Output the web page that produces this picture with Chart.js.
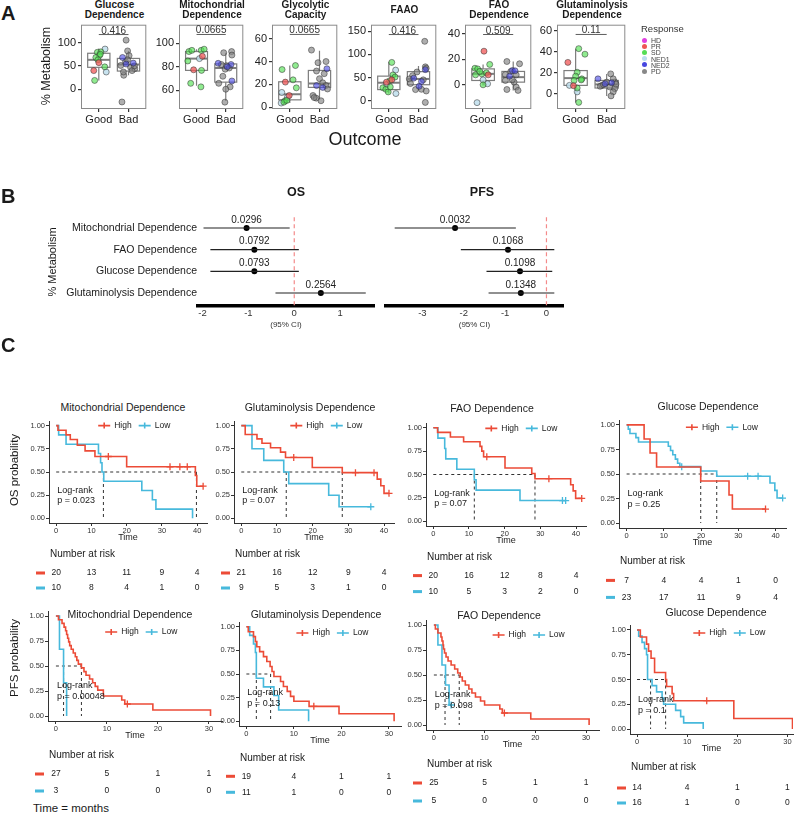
<!DOCTYPE html>
<html>
<head>
<meta charset="utf-8">
<script src="https://cdn.jsdelivr.net/npm/chart.js@4.4.1/dist/chart.umd.min.js"></script>
<style>
  body { margin: 0; background: #fff; }
  #fig { position: relative; width: 796px; height: 815px; overflow: hidden; font-family: "Liberation Sans", Arial, sans-serif; color: #1a1a1a; }
  #fig canvas { position: absolute; }
  .txt { position: absolute; white-space: nowrap; line-height: 1; }
  .dot { position: absolute; width: 5px; height: 5px; border-radius: 50%; }
</style>
</head>
<body>
<div id="fig"></div>
<script>
// ---------- Panel A: % metabolism by outcome ----------
const outcomes = ["Good", "Bad"];
const responseNames = ["HD", "PR", "SD", "NED1", "NED2", "PD"];
const boxTitles = [["Glucose", "Dependence"], ["Mitochondrial", "Dependence"], ["Glycolytic", "Capacity"], ["FAAO"], ["FAO", "Dependence"], ["Glutaminolysis", "Dependence"]];
const pValuesA = ["0.416", "0.0665", "0.0665", "0.416", "0.509", "0.11"];

// [lower whisker, Q1, median, Q3, upper whisker] for Good, Bad
const glucoseBox = [[19, 47, 63, 77, 87], [30, 39, 53, 66, 82]];
const mitoBox = [[64, 77, 87, 93, 95], [51, 67, 79, 82.5, 92]];
const glyBox = [[3.7, 6.5, 11.4, 22.3, 36.5], [6.5, 17.4, 20.8, 32.2, 49.4]];
const faaoBox = [[15.5, 24, 38.8, 53, 84], [22.5, 34.5, 47, 62.7, 75]];
const faoBox = [[-0.5, 3.4, 8.6, 12.5, 16], [-4.4, 2.1, 6, 10.5, 18.3]];
const glutBox = [[-8.4, 7.8, 14.7, 21.9, 42.8], [-2.2, 5.3, 8.75, 12.5, 18.75]];

// [jitter offset, value, response]
const glucoseGood = [[-0.14,19,"SD"],[-0.17,40,"PR"],[-0.05,79,"SD"],[0.07,80,"SD"],[0.21,86,"NED1"],[0.2,48,"SD"],[0.25,37,"NED1"],[0.02,72,"SD"],[0.0,57,"PR"],[-0.1,68,"SD"],[0.05,75,"SD"],[-0.03,63,"SD"]];
const glucoseBad = [[-0.08,105,"PD"],[-0.03,82,"PD"],[-0.2,68,"NED2"],[0.16,56,"NED2"],[-0.1,59,"PD"],[-0.16,30,"PD"],[-0.17,37,"PD"],[0.21,44,"PD"],[0.07,47,"PD"],[0.02,72,"PD"],[-0.22,-27,"PD"],[-0.08,54,"NED2"],[-0.26,51,"PD"],[-0.03,63,"PD"],[0.12,40,"PD"],[0.2,50,"PD"]];
const mitoGood = [[-0.26,93,"SD"],[-0.16,94,"SD"],[0.16,94,"SD"],[0.2,89,"PR"],[0.1,87,"NED1"],[-0.3,85,"SD"],[-0.1,77.5,"PR"],[-0.2,66,"SD"],[0.15,63,"SD"],[0.17,77,"SD"],[0.26,95,"SD"]];
const mitoBad = [[-0.07,92,"PD"],[0.2,93,"PD"],[0.21,90,"PD"],[-0.26,83,"NED2"],[0.18,82,"NED2"],[-0.15,82,"PD"],[-0.02,78,"PD"],[0.03,81,"PD"],[0.21,68,"NED2"],[-0.24,66,"PD"],[0.15,63,"PD"],[-0.03,50,"PD"],[0.0,61,"PD"],[-0.1,72,"PD"],[0.05,80,"NED2"],[0.12,79,"PD"]];
const glyGood = [[-0.26,33,"SD"],[0.19,36.5,"SD"],[-0.15,22,"PR"],[0.11,24,"SD"],[0.22,17,"SD"],[-0.27,13,"NED1"],[-0.08,8.8,"NED1"],[-0.02,10.3,"PR"],[-0.16,5.7,"SD"],[-0.2,4.5,"SD"],[-0.29,3.7,"NED1"],[-0.1,6,"SD"]];
const glyBad = [[-0.27,50,"PD"],[-0.05,39,"PD"],[0.22,40,"PD"],[-0.1,31.7,"PD"],[0.25,33.7,"NED2"],[0.16,29.4,"PD"],[0.0,25,"PD"],[0.11,21.4,"PD"],[-0.1,19,"NED2"],[0.11,17.4,"NED2"],[0.22,19,"PD"],[-0.22,10.3,"PD"],[-0.11,8,"PD"],[0.05,5.7,"PD"],[-0.18,8.5,"PD"],[0.27,16,"PD"]];
const faaoGood = [[0.1,82.6,"SD"],[0.23,66,"NED1"],[0.14,55.7,"SD"],[0.21,51,"SD"],[0.1,45,"PR"],[0.03,43,"SD"],[-0.08,40,"PR"],[-0.2,28,"SD"],[-0.1,24.6,"SD"],[-0.02,19,"SD"],[0.24,15.5,"NED1"],[0.05,29.7,"SD"],[-0.08,35,"NED1"]];
const faaoBad = [[0.21,128,"PD"],[0.23,73,"PD"],[0.26,70,"PD"],[0.23,67,"NED2"],[-0.05,62,"PD"],[-0.2,54,"PD"],[-0.16,48.7,"NED2"],[-0.31,47,"PD"],[0.16,45,"PD"],[0.1,41.5,"NED2"],[0.02,31,"NED2"],[-0.1,24,"PD"],[0.1,24.6,"PD"],[0.26,21,"PD"],[0.23,-3.6,"PD"],[-0.27,37,"PD"]];
const faoGood = [[0.03,26.4,"PR"],[0.22,16,"SD"],[-0.27,13,"SD"],[-0.18,12.5,"SD"],[-0.04,8.6,"SD"],[0.11,9.4,"SD"],[0.17,7.8,"PR"],[-0.25,7.8,"SD"],[0.0,3.9,"NED1"],[0.0,0,"SD"],[0.15,0.8,"NED1"],[-0.2,-14,"NED1"],[-0.11,10.5,"SD"]];
const faoBad = [[-0.21,18.3,"PD"],[0.21,16.5,"PD"],[-0.03,11.2,"NED2"],[-0.08,10.5,"PD"],[-0.12,6.8,"NED2"],[-0.26,8,"PD"],[0.1,7.8,"PD"],[-0.26,3.4,"PD"],[0.03,2.1,"PD"],[0.1,-1.8,"PD"],[-0.21,-3.7,"PD"],[0.16,-4.4,"PD"],[-0.03,4,"PD"],[0.06,11,"NED2"]];
const glutGood = [[0.1,42.8,"SD"],[0.3,37.5,"SD"],[-0.25,29.7,"PR"],[0.05,20.3,"SD"],[0.0,16.6,"SD"],[0.2,14,"SD"],[-0.05,12.5,"SD"],[-0.2,7.8,"NED1"],[-0.07,7.5,"PR"],[0.05,5.3,"SD"],[0.05,1.6,"NED1"],[0.1,-8.4,"SD"],[0.18,13,"SD"]];
const glutBad = [[-0.28,14,"NED2"],[0.13,18.75,"PD"],[0.0,10.9,"PD"],[-0.16,7.8,"PD"],[-0.05,9.4,"NED2"],[0.16,10.3,"NED2"],[0.26,11,"PD"],[0.21,14,"PD"],[0.1,6.25,"PD"],[0.26,4.7,"PD"],[0.21,1.6,"PD"],[0.14,-2.2,"PD"],[-0.21,6.9,"PD"],[0.3,9,"PD"],[-0.1,8.5,"PD"]];

const glucoseTicks = [0, 50, 100];
const mitoTicks = [60, 80, 100];
const glyTicks = [0, 20, 40, 60];
const faaoTicks = [0, 50, 100, 150];
const faoTicks = [0, 20, 40];
const glutTicks = [0, 20, 40, 60];

// ---------- Panel B: forest plots ----------
const forestLabels = ["Mitochondrial Dependence", "FAO Dependence", "Glucose Dependence", "Glutaminolysis Dependence"];
const osEst = [-1.04, -0.87, -0.87, 0.58];
const osLow = [-1.98, -1.83, -1.83, -0.41];
const osHigh = [-0.1, 0.1, 0.1, 1.56];
const osP = ["0.0296", "0.0792", "0.0793", "0.2564"];
const pfsEst = [-2.21, -0.93, -0.64, -0.62];
const pfsLow = [-3.67, -2.07, -1.45, -1.4];
const pfsHigh = [-0.74, 0.19, 0.14, 0.19];
const pfsP = ["0.0032", "0.1068", "0.1098", "0.1348"];
const osTicks = [-2, -1, 0, 1];
const pfsTicks = [-3, -2, -1, 0];

// ---------- Panel C: Kaplan-Meier curves [time, survival] ----------
const kmTitles = ["Mitochondrial Dependence", "Glutaminolysis Dependence", "FAO Dependence", "Glucose Dependence"];
const osRiskTimes = [0, 10, 20, 30, 40];
const pfsRiskTimes = [0, 10, 20, 30];
const osLogRankP = ["0.023", "0.07", "0.07", "0.25"];
const pfsLogRankP = ["0.00048", "0.13", "0.098", "0.1"];

const osMitoHigh = [[0,1],[0.5,0.95],[2.8,0.9],[4,0.85],[6,0.789],[8.2,0.728],[11,0.667],[20,0.556],[39.5,0.463],[39.9,0.347],[41.7,0.347]];
const osMitoLow = [[0,1],[0.7,0.9],[2.8,0.8],[12,0.7],[12.6,0.6],[13,0.5],[13.5,0.4],[24.3,0.3],[27.3,0.2],[28.3,0.1],[38.7,0]];
const osMitoHighCens = [[14.8,0.667],[32.3,0.556],[35.1,0.556],[37.2,0.556],[41.7,0.347]];
const osMitoLowCens = [];
const osMitoMedians = [13.4, 39.8];
const osMitoRiskHigh = [20, 13, 11, 9, 4];
const osMitoRiskLow = [10, 8, 4, 1, 0];

const osGlutHigh = [[0,1],[1.1,0.905],[4.4,0.857],[5.8,0.81],[8.2,0.762],[11,0.714],[12.4,0.657],[19.9,0.548],[28.3,0.493],[38.1,0.423],[39.1,0.352],[40,0.27],[41.4,0.27]];
const osGlutLow = [[0,1],[3,0.75],[6.3,0.625],[11.9,0.5],[13.3,0.375],[24.5,0.25],[27.4,0.125],[36.3,0.125]];
const osGlutHighCens = [[14.7,0.657],[32,0.493],[37.2,0.493],[41.4,0.27]];
const osGlutLowCens = [[36.3,0.125]];
const osGlutMedians = [12.6, 28.3];
const osGlutRiskHigh = [21, 16, 12, 9, 4];
const osGlutRiskLow = [9, 5, 3, 1, 0];

const osFaoHigh = [[0,1],[1.2,0.95],[4.8,0.9],[8.5,0.85],[13.1,0.8],[13.6,0.75],[14.1,0.69],[20.1,0.57],[27.6,0.51],[28.5,0.455],[38.5,0.39],[39.2,0.325],[39.9,0.245],[41.6,0.245]];
const osFaoLow = [[0,1],[1.3,0.889],[3.2,0.778],[3.5,0.667],[6.6,0.556],[11.5,0.444],[12,0.333],[24.3,0.222],[37.1,0.222]];
const osFaoHighCens = [[15,0.69],[32.4,0.455],[41.6,0.245]];
const osFaoLowCens = [[36.2,0.222],[37.1,0.222]];
const osFaoMedians = [11.5, 28.5];
const osFaoRiskHigh = [20, 16, 12, 8, 4];
const osFaoRiskLow = [10, 5, 3, 2, 0];

const osGlucHigh = [[0,1],[4.7,0.857],[6.3,0.714],[8.05,0.571],[19.9,0.429],[27.5,0.286],[28.4,0.143],[37.3,0.143]];
const osGlucLow = [[0,1],[0.45,0.957],[0.9,0.913],[2.5,0.87],[3.2,0.826],[11.2,0.783],[11.8,0.739],[12.4,0.696],[13.1,0.652],[13.7,0.609],[14.3,0.575],[19.9,0.53],[24.2,0.477],[38.5,0.408],[39.8,0.333],[40.4,0.255],[41.9,0.255]];
const osGlucHighCens = [[37.3,0.143]];
const osGlucLowCens = [[14.8,0.575],[32.5,0.477],[35.3,0.477],[41.9,0.255]];
const osGlucMedians = [19.9, 24.2];
const osGlucRiskHigh = [7, 4, 4, 1, 0];
const osGlucRiskLow = [23, 17, 11, 9, 4];

const pfsMitoHigh = [[0,1],[0.5,0.963],[1.2,0.926],[1.6,0.889],[1.9,0.852],[2.1,0.815],[2.3,0.778],[2.5,0.741],[2.7,0.704],[3.0,0.667],[3.4,0.63],[3.8,0.593],[4.1,0.556],[4.4,0.519],[5.0,0.481],[5.5,0.444],[5.9,0.407],[6.6,0.37],[7.2,0.333],[7.7,0.296],[8.2,0.259],[9.3,0.2],[12.9,0.16],[13.5,0.12],[19,0.06],[30.3,0]];
const pfsMitoLow = [[0,1],[0.7,0.667],[1.5,0.333],[2.1,0]];
const pfsMitoHighCens = [[14,0.12]];
const pfsMitoLowCens = [];
const pfsMitoMedians = [1.5, 5.0];
const pfsMitoRiskHigh = [27, 5, 1, 1];
const pfsMitoRiskLow = [3, 0, 0, 0];

const pfsGlutHigh = [[0,1],[0.4,0.947],[1.5,0.895],[1.9,0.842],[2.2,0.789],[2.8,0.737],[3.6,0.684],[4.3,0.632],[5.0,0.579],[5.4,0.526],[5.8,0.474],[7.2,0.421],[7.8,0.368],[8.6,0.316],[9.3,0.263],[10,0.211],[13.2,0.158],[19.5,0.079],[31.1,0]];
const pfsGlutLow = [[0,1],[0.7,0.909],[1.5,0.818],[1.9,0.727],[2.1,0.455],[3.6,0.364],[5.8,0.273],[6.8,0.12],[13.1,0]];
const pfsGlutHighCens = [[14.2,0.158]];
const pfsGlutLowCens = [];
const pfsGlutMedians = [2.1, 5.1];
const pfsGlutRiskHigh = [19, 4, 1, 1];
const pfsGlutRiskLow = [11, 1, 0, 0];

const pfsFaoHigh = [[0,1],[0.3,0.96],[0.8,0.92],[1.4,0.88],[1.6,0.84],[1.8,0.8],[1.9,0.76],[2.1,0.72],[2.4,0.68],[2.8,0.64],[3.4,0.6],[4.1,0.56],[4.7,0.52],[5.2,0.48],[5.6,0.44],[6.2,0.4],[6.9,0.36],[7.5,0.32],[8.2,0.28],[9.2,0.24],[10,0.2],[13,0.16],[13.5,0.12],[19.1,0.06],[30.6,0]];
const pfsFaoLow = [[0,1],[0.8,0.8],[1.6,0.6],[2.3,0.4],[3.0,0.2],[3.4,0.2]];
const pfsFaoHighCens = [[13.9,0.12]];
const pfsFaoLowCens = [[3.4,0.2]];
const pfsFaoMedians = [2.2, 5.0];
const pfsFaoRiskHigh = [25, 5, 1, 1];
const pfsFaoRiskLow = [5, 0, 0, 0];

const pfsGlucHigh = [[0,1],[0.66,0.929],[1.9,0.857],[2.3,0.786],[2.8,0.714],[3.5,0.571],[5.7,0.5],[5.9,0.429],[7,0.357],[7.3,0.286],[19.3,0.107],[31,0]];
const pfsGlucLow = [[0,1],[0.33,0.938],[1,0.875],[1.5,0.812],[1.9,0.75],[2.1,0.5],[3,0.438],[3.9,0.375],[5,0.313],[5.3,0.25],[7.7,0.188],[8.7,0.125],[9.3,0.0625],[13.2,0]];
const pfsGlucHighCens = [[13.9,0.286]];
const pfsGlucLowCens = [];
const pfsGlucMedians = [2.7, 5.7];
const pfsGlucRiskHigh = [14, 4, 1, 1];
const pfsGlucRiskLow = [16, 1, 0, 0];

// ---------- styling / layout ----------
const FONT = '"Liberation Sans", Arial, sans-serif';
const RED = "#EC4B37";
const BLUE = "#47B9DC";
const responseFill = ["rgba(230,60,230,0.75)", "rgba(240,85,85,0.75)", "rgba(85,225,85,0.65)", "rgba(190,222,236,0.85)", "rgba(70,70,230,0.6)", "rgba(130,130,130,0.65)"];
const responseDot = ["#E040E0", "#EE5555", "#55DD55", "#BBDDEE", "#4848E0", "#888888"];

Chart.defaults.font.family = FONT;
Chart.defaults.color = "#222";

const fig = document.getElementById("fig");

function put(text, x, y, css, anchor) {
  const d = document.createElement("div");
  d.className = "txt";
  d.textContent = text;
  d.style.cssText += css;
  d.style.left = x + "px";
  d.style.top = y + "px";
  const tr = { c: "translate(-50%,-50%)", l: "translate(0,-50%)", v: "translate(-50%,-50%) rotate(-90deg)" };
  d.style.transform = tr[anchor || "c"];
  fig.appendChild(d);
}

function makeCanvas(x, y, w, h) {
  const c = document.createElement("canvas");
  c.width = Math.round(w);
  c.height = Math.round(h);
  c.style.left = Math.round(x) + "px";
  c.style.top = Math.round(y) + "px";
  fig.appendChild(c);
  return c;
}

const fixW = w => s => { s.width = w; s.paddingTop = 0; s.paddingBottom = 0; };
const fixH = h => s => { s.height = h; s.paddingLeft = 0; s.paddingRight = 0; };

// ---------- plugins ----------
const boxPlugin = {
  id: "boxes",
  beforeDatasetsDraw(chart, args, o) {
    const { ctx, scales: { x, y } } = chart;
    const hw = x.getPixelForValue(1.375) - x.getPixelForValue(1);
    ctx.save();
    o.stats.forEach((s, g) => {
      const cx = x.getPixelForValue(g + 1);
      const [lo, q1, md, q3, hi] = s.map(v => y.getPixelForValue(v));
      ctx.strokeStyle = "#7d7d7d";
      ctx.lineWidth = 1.2;
      ctx.beginPath();
      ctx.moveTo(cx, hi); ctx.lineTo(cx, q3);
      ctx.moveTo(cx, q1); ctx.lineTo(cx, lo);
      ctx.stroke();
      ctx.fillStyle = "#fff";
      ctx.fillRect(cx - hw, q3, 2 * hw, q1 - q3);
      ctx.strokeRect(cx - hw, q3, 2 * hw, q1 - q3);
      ctx.lineWidth = 2;
      ctx.beginPath();
      ctx.moveTo(cx - hw, md); ctx.lineTo(cx + hw, md);
      ctx.stroke();
    });
    ctx.restore();
  },
  afterDraw(chart, args, o) {
    const { ctx, chartArea: a, scales: { x, y } } = chart;
    ctx.save();
    ctx.strokeStyle = "#8a8a8a";
    ctx.lineWidth = 1;
    ctx.strokeRect(a.left + 0.5, a.top + 0.5, a.right - a.left - 1, a.bottom - a.top - 1);
    const by = y.getPixelForValue(o.bracket);
    const x1 = x.getPixelForValue(1), x2 = x.getPixelForValue(2);
    ctx.strokeStyle = "#333";
    ctx.lineWidth = 0.8;
    ctx.beginPath(); ctx.moveTo(x1, by); ctx.lineTo(x2, by); ctx.stroke();
    ctx.fillStyle = "#333";
    ctx.font = `10px ${FONT}`;
    ctx.textAlign = "center";
    ctx.textBaseline = "alphabetic";
    ctx.fillText(o.p, (x1 + x2) / 2, by - 1);
    ctx.restore();
  }
};

const forestPlugin = {
  id: "forestP",
  afterDatasetsDraw(chart, args, o) {
    const { ctx, scales: { x, y } } = chart;
    ctx.save();
    ctx.font = `10px ${FONT}`;
    ctx.fillStyle = "#222";
    ctx.textAlign = "center";
    ctx.textBaseline = "middle";
    o.est.forEach((e, i) => ctx.fillText(o.pv[i], x.getPixelForValue(e), y.getPixelForValue(i + 1) - 8));
    ctx.restore();
  }
};

const kmPlugin = {
  id: "kmExtras",
  afterDraw(chart, args, o) {
    const { ctx, chartArea: a, scales: { x, y } } = chart;
    ctx.save();
    ctx.fillStyle = "#1a1a1a";
    ctx.textBaseline = "middle";
    ctx.textAlign = "left";
    ctx.font = `9px ${FONT}`;
    const lx = x.getPixelForValue(0) + 1;
    ctx.fillText("Log-rank", lx, y.getPixelForValue(0.3));
    ctx.fillText("p = " + o.p, lx, y.getPixelForValue(0.19));

    let gx = o.legend[0] - o.ox, gy = o.legend[1] - o.oy;
    ctx.font = `8.5px ${FONT}`;
    [["High", RED], ["Low", BLUE]].forEach(([name, col]) => {
      ctx.strokeStyle = col;
      ctx.lineWidth = 1.6;
      ctx.beginPath();
      ctx.moveTo(gx, gy); ctx.lineTo(gx + 12, gy);
      ctx.moveTo(gx + 6, gy - 3); ctx.lineTo(gx + 6, gy + 3);
      ctx.stroke();
      ctx.fillStyle = "#1a1a1a";
      ctx.fillText(name, gx + 16, gy);
      gx += 16 + ctx.measureText(name).width + 7;
    });

    const [nar, r1, r2] = o.rows;
    ctx.font = `10px ${FONT}`;
    ctx.fillText("Number at risk", a.left + 1, a.bottom + nar);
    ctx.font = `8.5px ${FONT}`;
    ctx.textAlign = "center";
    [[o.riskHi, RED, r1], [o.riskLo, BLUE, r2]].forEach(([vals, col, off]) => {
      const yy = a.bottom + off;
      ctx.fillStyle = col;
      ctx.fillRect(a.left - 13, yy - 1.5, 9, 3);
      ctx.fillStyle = "#1a1a1a";
      vals.forEach((v, j) => ctx.fillText(String(v), x.getPixelForValue(o.times[j]), yy));
    });
    ctx.restore();
  }
};

// ---------- Panel A ----------
const boxAreas = [[81, 148], [179, 245], [272, 339], [371, 438], [465, 533], [557, 627]];
const boxRanges = [[-42, 138], [44.2, 115.8], [-1.5, 72.2], [-17.8, 163.8], [-19, 47.2], [-14.7, 65.6]];
const bracketAt = [117, 107.5, 63.7, 142.6, 39.5, 56.3];

function boxChart(i, good, bad, stats, ticks) {
  const [L, R] = boxAreas[i];
  const T = 23, B = 109, yw = 30, pad = 3, xh = 18;
  const cv = makeCanvas(L - yw, T - pad, yw + (R - L) + pad, pad + (B - T) + xh);
  const ds = [];
  [good, bad].forEach((pts, g) => {
    responseNames.forEach((r, k) => {
      const sel = pts.filter(p => p[2] === r);
      if (!sel.length) return;
      ds.push({
        data: sel.map(p => ({ x: g + 1 + p[0], y: p[1] })),
        backgroundColor: responseFill[k],
        borderColor: "rgba(50,50,50,0.75)",
        borderWidth: 0.7,
        pointRadius: 3
      });
    });
  });
  const tickGrid = { drawOnChartArea: false, drawTicks: true, tickLength: 3, color: "#333", lineWidth: 1.2 };
  new Chart(cv, {
    type: "scatter",
    data: { datasets: ds },
    options: {
      responsive: false,
      animation: false,
      layout: { padding: { left: 0, top: pad, right: pad, bottom: 0 } },
      scales: {
        x: {
          type: "linear", min: 0.4, max: 2.6,
          afterBuildTicks: s => { s.ticks = outcomes.map((_, j) => ({ value: j + 1 })); },
          ticks: { callback: v => outcomes[v - 1], font: { size: 11 }, color: "#222", padding: 1, autoSkip: false, maxRotation: 0 },
          grid: tickGrid, border: { display: false }, afterFit: fixH(xh)
        },
        y: {
          min: boxRanges[i][0], max: boxRanges[i][1],
          afterBuildTicks: s => { s.ticks = ticks.map(v => ({ value: v })); },
          ticks: { font: { size: 11 }, color: "#222", padding: 2 },
          grid: tickGrid, border: { display: false }, afterFit: fixW(yw)
        }
      },
      plugins: { legend: { display: false }, tooltip: { enabled: false }, boxes: { stats, p: pValuesA[i], bracket: bracketAt[i] } }
    },
    plugins: [boxPlugin]
  });
  const cx = (L + R) / 2;
  const t = boxTitles[i];
  if (t.length === 2) {
    put(t[0], cx, 4.5, "font-weight:bold;font-size:10px;", "c");
    put(t[1], cx, 14.5, "font-weight:bold;font-size:10px;", "c");
  } else {
    put(t[0], cx, 9.5, "font-weight:bold;font-size:10px;", "c");
  }
}

boxChart(0, glucoseGood, glucoseBad, glucoseBox, glucoseTicks);
boxChart(1, mitoGood, mitoBad, mitoBox, mitoTicks);
boxChart(2, glyGood, glyBad, glyBox, glyTicks);
boxChart(3, faaoGood, faaoBad, faaoBox, faaoTicks);
boxChart(4, faoGood, faoBad, faoBox, faoTicks);
boxChart(5, glutGood, glutBad, glutBox, glutTicks);

put("A", 1, 13, "font-weight:bold;font-size:20px;", "l");
put("% Metabolism", 46, 66, "font-size:12.5px;", "v");
put("Outcome", 365, 139, "font-size:18px;", "c");
put("Response", 641, 29, "font-size:9.5px;color:#333;", "l");
responseNames.forEach((r, k) => {
  const yy = 40 + k * 6.2;
  const d = document.createElement("div");
  d.className = "dot";
  d.style.left = "641.5px";
  d.style.top = (yy - 2.5) + "px";
  d.style.background = responseDot[k];
  fig.appendChild(d);
  put(r, 651, yy, "font-size:7px;color:#444;", "l");
});

// ---------- Panel B ----------
function forestChart(cx, left, right, labels, est, lo, hi, pv, ticks, range) {
  const T = 215, B = 306, top = 10, xh = 24, bot = 3, rp = 5;
  const showY = labels !== null;
  const cv = makeCanvas(cx, T - top, right - cx + rp, top + (B - T) + xh + bot);
  const ds = [];
  est.forEach((e, i) => ds.push({
    data: [{ x: lo[i], y: i + 1 }, { x: hi[i], y: i + 1 }],
    showLine: true, borderColor: "#222", borderWidth: 1.2, pointRadius: 0
  }));
  ds.push({ data: est.map((e, i) => ({ x: e, y: i + 1 })), pointRadius: 3, backgroundColor: "#000", borderWidth: 0 });
  ds.push({
    data: [{ x: 0, y: 0.5 }, { x: 0, y: 4.6 }],
    showLine: true, borderColor: "#F48A8A", borderDash: [4, 3], borderWidth: 1.2, pointRadius: 0
  });
  new Chart(cv, {
    type: "scatter",
    data: { datasets: ds },
    options: {
      responsive: false,
      animation: false,
      layout: { padding: { left: showY ? 0 : left - cx, top, right: rp, bottom: bot } },
      scales: {
        x: {
          min: range[0], max: range[1],
          afterBuildTicks: s => { s.ticks = ticks.map(v => ({ value: v })); },
          ticks: { font: { size: 9.5 }, color: "#333", padding: 2, callback: v => String(v) },
          grid: { drawOnChartArea: false, drawTicks: false },
          border: { display: true, width: 3.5, color: "#000" },
          title: { display: true, text: "(95% CI)", font: { size: 8 }, color: "#333", padding: 0 },
          afterFit: fixH(xh)
        },
        y: {
          display: showY, reverse: true, min: 0.4, max: 4.6,
          afterBuildTicks: s => { s.ticks = est.map((_, i) => ({ value: i + 1 })); },
          ticks: { font: { size: 10.5 }, color: "#1a1a1a", padding: 1, callback: v => (labels ? labels[v - 1] : "") },
          grid: { drawOnChartArea: false, drawTicks: false },
          border: { display: false },
          afterFit: fixW(left - cx)
        }
      },
      plugins: { legend: { display: false }, tooltip: { enabled: false }, forestP: { est, pv } }
    },
    plugins: [forestPlugin]
  });
}

forestChart(60, 198, 374, forestLabels, osEst, osLow, osHigh, osP, osTicks, [-2.1, 1.74]);
forestChart(380, 383, 563, null, pfsEst, pfsLow, pfsHigh, pfsP, pfsTicks, [-3.88, 0.4]);

put("B", 1, 196, "font-weight:bold;font-size:20px;", "l");
put("OS", 296, 192, "font-weight:bold;font-size:12.5px;", "c");
put("PFS", 482, 192, "font-weight:bold;font-size:12.5px;", "c");
put("% Metabolism", 52, 262, "font-size:11px;", "v");

// ---------- Panel C ----------
const kmGeo = [
  { l: 48.8, r: 207.2, t: 421.4, b: 522.9, min: -2.04, max: 42.8, rows: [31, 50, 65], legend: [98, 426], title: [123, 407] },
  { l: 233.7, r: 393.3, t: 421.4, b: 522.9, min: -2.04, max: 42.8, rows: [31, 50, 65], legend: [290, 426], title: [310, 407] },
  { l: 425.7, r: 586, t: 422.6, b: 525.4, min: -2.04, max: 42.8, rows: [31.6, 49.6, 65.6], legend: [485, 428], title: [492, 408] },
  { l: 619.1, r: 786.1, t: 419.8, b: 527.6, min: -2.04, max: 42.8, rows: [33.4, 52.4, 69.4], legend: [686, 427], title: [708, 406] },
  { l: 47.8, r: 222, t: 611, b: 721, min: -1.55, max: 32.55, rows: [34, 53, 70], legend: [105, 632], title: [130, 614] },
  { l: 238.6, r: 400.4, t: 622, b: 725.7, min: -1.55, max: 32.55, rows: [32.3, 50.3, 66.3], legend: [296, 633], title: [316, 614] },
  { l: 426.4, r: 599.7, t: 620, b: 730, min: -1.55, max: 32.55, rows: [34, 53, 71], legend: [493, 635], title: [499, 615] },
  { l: 629.7, r: 792.2, t: 625, b: 734, min: -1.4, max: 31.1, rows: [33, 54, 69], legend: [693, 633], title: [716, 612] }
];

const kmSpecs = [
  [osMitoHigh, osMitoLow, osMitoHighCens, osMitoLowCens, osMitoMedians, osMitoRiskHigh, osMitoRiskLow, osRiskTimes, osLogRankP[0], kmTitles[0]],
  [osGlutHigh, osGlutLow, osGlutHighCens, osGlutLowCens, osGlutMedians, osGlutRiskHigh, osGlutRiskLow, osRiskTimes, osLogRankP[1], kmTitles[1]],
  [osFaoHigh, osFaoLow, osFaoHighCens, osFaoLowCens, osFaoMedians, osFaoRiskHigh, osFaoRiskLow, osRiskTimes, osLogRankP[2], kmTitles[2]],
  [osGlucHigh, osGlucLow, osGlucHighCens, osGlucLowCens, osGlucMedians, osGlucRiskHigh, osGlucRiskLow, osRiskTimes, osLogRankP[3], kmTitles[3]],
  [pfsMitoHigh, pfsMitoLow, pfsMitoHighCens, pfsMitoLowCens, pfsMitoMedians, pfsMitoRiskHigh, pfsMitoRiskLow, pfsRiskTimes, pfsLogRankP[0], kmTitles[0]],
  [pfsGlutHigh, pfsGlutLow, pfsGlutHighCens, pfsGlutLowCens, pfsGlutMedians, pfsGlutRiskHigh, pfsGlutRiskLow, pfsRiskTimes, pfsLogRankP[1], kmTitles[1]],
  [pfsFaoHigh, pfsFaoLow, pfsFaoHighCens, pfsFaoLowCens, pfsFaoMedians, pfsFaoRiskHigh, pfsFaoRiskLow, pfsRiskTimes, pfsLogRankP[2], kmTitles[2]],
  [pfsGlucHigh, pfsGlucLow, pfsGlucHighCens, pfsGlucLowCens, pfsGlucMedians, pfsGlucRiskHigh, pfsGlucRiskLow, pfsRiskTimes, pfsLogRankP[3], kmTitles[3]]
];

const pts = arr => arr.map(([t, s]) => ({ x: t, y: s }));

function kmChart(k) {
  const g = kmGeo[k];
  const [hi, lo, hc, lc, med, rh, rl, times, p, title] = kmSpecs[k];
  const yw = 24, top = 6, rp = 6, xh = 20, bot = 56;
  const ox = g.l - yw, oy = g.t - top;
  const cv = makeCanvas(ox, oy, (g.r - g.l) + yw + rp, top + (g.b - g.t) + xh + bot);
  const dash = { showLine: true, borderColor: "#333", borderWidth: 1, borderDash: [3, 3], pointRadius: 0 };
  const ds = [
    { data: pts(hi), showLine: true, stepped: true, borderColor: RED, borderWidth: 1.6, pointRadius: 0 },
    { data: pts(lo), showLine: true, stepped: true, borderColor: BLUE, borderWidth: 1.6, pointRadius: 0 },
    { data: pts(hc), pointStyle: "cross", pointRadius: 3.5, borderColor: RED, borderWidth: 1.3 },
    { data: pts(lc), pointStyle: "cross", pointRadius: 3.5, borderColor: BLUE, borderWidth: 1.3 },
    Object.assign({ data: [{ x: 0, y: 0.5 }, { x: Math.max(...med), y: 0.5 }] }, dash)
  ];
  med.forEach(m => ds.push(Object.assign({ data: [{ x: m, y: 0.5 }, { x: m, y: 0 }] }, dash)));
  const axGrid = { drawOnChartArea: false, drawTicks: true, tickLength: 3, color: "#333" };
  new Chart(cv, {
    type: "scatter",
    data: { datasets: ds },
    options: {
      responsive: false,
      animation: false,
      layout: { padding: { left: 0, top, right: rp, bottom: bot } },
      scales: {
        x: {
          min: g.min, max: g.max,
          afterBuildTicks: s => { s.ticks = times.map(v => ({ value: v })); },
          ticks: { font: { size: 7.5 }, color: "#333", padding: 0, maxRotation: 0 },
          grid: axGrid, border: { display: true, color: "#333", width: 1 },
          title: { display: true, text: "Time", font: { size: 9 }, color: "#222", padding: 0 },
          afterFit: fixH(xh)
        },
        y: {
          min: -0.05, max: 1.05,
          afterBuildTicks: s => { s.ticks = [0, 0.25, 0.5, 0.75, 1].map(v => ({ value: v })); },
          ticks: { font: { size: 7.5 }, color: "#333", padding: 1, callback: v => v.toFixed(2) },
          grid: axGrid, border: { display: true, color: "#333", width: 1 },
          afterFit: fixW(yw)
        }
      },
      plugins: {
        legend: { display: false }, tooltip: { enabled: false },
        kmExtras: { p, legend: g.legend, ox, oy, rows: g.rows, riskHi: rh, riskLo: rl, times }
      }
    },
    plugins: [kmPlugin]
  });
  put(title, g.title[0], g.title[1], "font-size:10.5px;color:#222;", "c");
}

for (let k = 0; k < kmSpecs.length; k++) kmChart(k);

put("C", 1, 345, "font-weight:bold;font-size:20px;", "l");
put("OS probability", 15, 470, "font-size:11.5px;", "v");
put("PFS probability", 15, 658, "font-size:11.5px;", "v");
put("Time = months", 33, 809, "font-size:11.5px;", "l");
</script>
</body>
</html>
